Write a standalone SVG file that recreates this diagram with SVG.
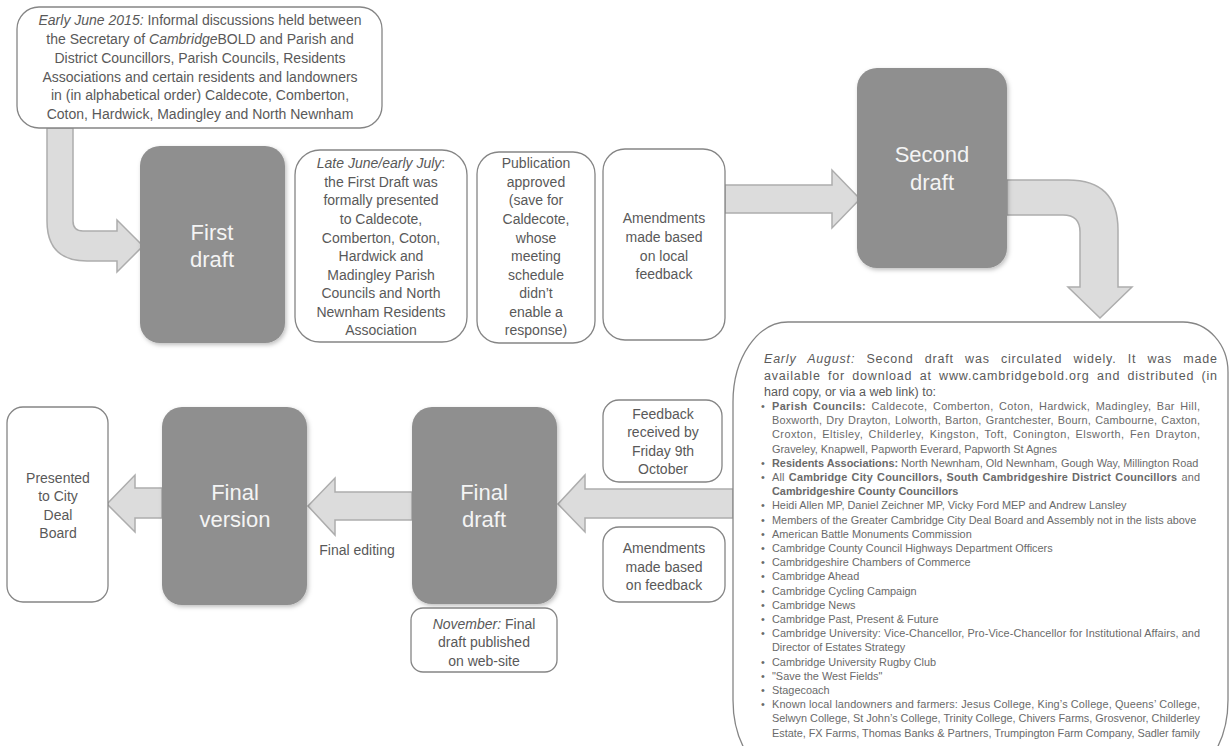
<svg xmlns="http://www.w3.org/2000/svg" width="1231" height="746" viewBox="0 0 1231 746">
<defs>
<filter id="sh" x="-10%" y="-10%" width="130%" height="130%">
<feDropShadow dx="1.5" dy="2" stdDeviation="2" flood-color="#000" flood-opacity="0.25"/>
</filter>
</defs>
<style>
.box{fill:#fff;stroke:#858585;stroke-width:1.3}
.dark{fill:#8f8f8f;filter:url(#sh)}
.t{font-family:"Liberation Sans",Arial,sans-serif;font-size:14px;fill:#595959;text-anchor:middle}
.title{font-family:"Liberation Sans",Arial,sans-serif;font-size:22px;fill:#f4f4f4;text-anchor:middle}
.arrow{fill:#dcdcdc;stroke:#adadad;stroke-width:1.5;stroke-linejoin:miter}
.p{font-family:"Liberation Sans",Arial,sans-serif;font-size:12.5px;fill:#5a5a5a}
.b{font-family:"Liberation Sans",Arial,sans-serif;font-size:10.9px;fill:#6a6a6a}
.i{font-style:italic}
.bd{font-weight:bold}
</style>
<rect width="1231" height="746" fill="#fff"/>

<g id="connectors">
<path class="arrow" d="M47,128 L73,128 L73,221 Q73,231 83,231 L117,231 L117,220 L143,246 L117,272 L117,261 L87,261 Q47,261 47,221 Z"/>
<path class="arrow" d="M725,185 L832,185 L832,170 L860,199 L832,228 L832,213 L725,213 Z"/>
<path class="arrow" d="M1007,180 L1068,180 Q1118,180 1118,230 L1118,287 L1132,287 L1100,318 L1068,287 L1080,287 L1080,232 Q1080,215 1063,215 L1007,215 Z"/>
<path class="arrow" d="M733,489 L585,489 L585,475 L558,504 L585,532 L585,518 L733,518 Z"/>
<path class="arrow" d="M412,492 L335,492 L335,478 L308,506 L335,535 L335,520 L412,520 Z"/>
<path class="arrow" d="M162,488 L135,488 L135,475 L107,504 L135,532 L135,518 L162,518 Z"/>
</g>

<g id="early-june">
<rect class="box" x="17" y="7" width="365" height="121" rx="22"/>
<text class="t" x="200" y="25"><tspan class="i">Early June 2015:</tspan> Informal discussions held between</text>
<text class="t" x="200" y="44">the Secretary of <tspan class="i">Cambridge</tspan>BOLD and Parish and</text>
<text class="t" x="200" y="63">District Councillors, Parish Councils, Residents</text>
<text class="t" x="200" y="82">Associations and certain residents and landowners</text>
<text class="t" x="200" y="100">in (in alphabetical order) Caldecote, Comberton,</text>
<text class="t" x="200" y="119">Coton, Hardwick, Madingley and North Newnham</text>
</g>

<g id="first-draft">
<rect class="dark" x="140" y="146" width="145" height="197" rx="20"/>
<text class="title" x="212" y="240">First</text>
<text class="title" x="212" y="267">draft</text>
</g>

<g id="late-june">
<rect class="box" x="295" y="150" width="172" height="192" rx="25"/>
<text class="t" x="381" y="168"><tspan class="i">Late June/early July</tspan>:</text>
<text class="t" x="381" y="186.6">the First Draft was</text>
<text class="t" x="381" y="205">formally presented</text>
<text class="t" x="381" y="224">to Caldecote,</text>
<text class="t" x="381" y="242.5">Comberton, Coton,</text>
<text class="t" x="381" y="261">Hardwick and</text>
<text class="t" x="381" y="280">Madingley Parish</text>
<text class="t" x="381" y="298">Councils and North</text>
<text class="t" x="381" y="317">Newnham Residents</text>
<text class="t" x="381" y="335">Association</text>
</g>

<g id="publication">
<rect class="box" x="477" y="152" width="118" height="191" rx="22"/>
<text class="t" x="536" y="168">Publication</text>
<text class="t" x="536" y="186.6">approved</text>
<text class="t" x="536" y="205">(save for</text>
<text class="t" x="536" y="224">Caldecote,</text>
<text class="t" x="536" y="242.5">whose</text>
<text class="t" x="536" y="261">meeting</text>
<text class="t" x="536" y="280">schedule</text>
<text class="t" x="536" y="298">didn’t</text>
<text class="t" x="536" y="317">enable a</text>
<text class="t" x="536" y="335">response)</text>
</g>

<g id="amend-local">
<rect class="box" x="603" y="149" width="122" height="191" rx="22"/>
<text class="t" x="664" y="223">Amendments</text>
<text class="t" x="664" y="242">made based</text>
<text class="t" x="664" y="261">on local</text>
<text class="t" x="664" y="279">feedback</text>
</g>

<g id="second-draft">
<rect class="dark" x="857" y="68" width="150" height="200" rx="20"/>
<text class="title" x="932" y="162">Second</text>
<text class="title" x="932" y="190">draft</text>
</g>

<g id="early-august">
<path class="box" d="M788,322 L1183,322 A45,50 0 0 1 1228,372 L1228,700 A55,80 0 0 1 1173,780 L788,780 A55,80 0 0 1 733,700 L733,402 A55,80 0 0 1 788,322 Z"/>
<text class="p" x="764" y="363" textLength="453" lengthAdjust="spacing" word-spacing="7"><tspan class="i">Early August:</tspan> Second draft was circulated widely.  It was made</text>
<text class="p" x="764" y="380" textLength="453" lengthAdjust="spacing" word-spacing="3">available for download at www.cambridgebold.org and distributed (in</text>
<text class="p" x="764" y="396">hard copy, or via a web link) to:</text>
<g>
<text class="b" x="761" y="410">•</text>
<text class="b" x="772" y="410" textLength="428" lengthAdjust="spacing" word-spacing="2"><tspan class="bd">Parish Councils:</tspan> Caldecote, Comberton, Coton, Hardwick, Madingley, Bar Hill,</text>
<text class="b" x="772" y="424.2" textLength="428" lengthAdjust="spacing" word-spacing="1">Boxworth, Dry Drayton, Lolworth, Barton, Grantchester, Bourn, Cambourne, Caxton,</text>
<text class="b" x="772" y="438.4" textLength="428" lengthAdjust="spacing" word-spacing="2">Croxton, Eltisley, Childerley, Kingston, Toft, Conington, Elsworth, Fen Drayton,</text>
<text class="b" x="772" y="452.6">Graveley, Knapwell, Papworth Everard, Papworth St Agnes</text>
<text class="b" x="761" y="466.8">•</text>
<text class="b" x="772" y="466.8"><tspan class="bd">Residents Associations:</tspan> North Newnham, Old Newnham, Gough Way, Millington Road</text>
<text class="b" x="761" y="481">•</text>
<text class="b" x="772" y="481" textLength="428" lengthAdjust="spacing" word-spacing="1">All <tspan class="bd">Cambridge City Councillors, South Cambridgeshire District Councillors</tspan> and</text>
<text class="b bd" x="772" y="495.2">Cambridgeshire County Councillors</text>
<text class="b" x="761" y="509.4">•</text>
<text class="b" x="772" y="509.4">Heidi Allen MP, Daniel Zeichner MP, Vicky Ford MEP and Andrew Lansley</text>
<text class="b" x="761" y="523.6">•</text>
<text class="b" x="772" y="523.6">Members of the Greater Cambridge City Deal Board and Assembly not in the lists above</text>
<text class="b" x="761" y="537.8">•</text>
<text class="b" x="772" y="537.8">American Battle Monuments Commission</text>
<text class="b" x="761" y="552">•</text>
<text class="b" x="772" y="552">Cambridge County Council Highways Department Officers</text>
<text class="b" x="761" y="566.2">•</text>
<text class="b" x="772" y="566.2">Cambridgeshire Chambers of Commerce</text>
<text class="b" x="761" y="580.4">•</text>
<text class="b" x="772" y="580.4">Cambridge Ahead</text>
<text class="b" x="761" y="594.6">•</text>
<text class="b" x="772" y="594.6">Cambridge Cycling Campaign</text>
<text class="b" x="761" y="608.8">•</text>
<text class="b" x="772" y="608.8">Cambridge News</text>
<text class="b" x="761" y="623">•</text>
<text class="b" x="772" y="623">Cambridge Past, Present &amp; Future</text>
<text class="b" x="761" y="637.2">•</text>
<text class="b" x="772" y="637.2" textLength="428" lengthAdjust="spacing">Cambridge University: Vice-Chancellor, Pro-Vice-Chancellor for Institutional Affairs, and</text>
<text class="b" x="772" y="651.4">Director of Estates Strategy</text>
<text class="b" x="761" y="665.6">•</text>
<text class="b" x="772" y="665.6">Cambridge University Rugby Club</text>
<text class="b" x="761" y="679.8">•</text>
<text class="b" x="772" y="679.8">"Save the West Fields"</text>
<text class="b" x="761" y="694">•</text>
<text class="b" x="772" y="694">Stagecoach</text>
<text class="b" x="761" y="708.2">•</text>
<text class="b" x="772" y="708.2" textLength="428" lengthAdjust="spacing">Known local landowners and farmers: Jesus College, King’s College, Queens’ College,</text>
<text class="b" x="772" y="722.4" textLength="428" lengthAdjust="spacing">Selwyn College, St John’s College, Trinity College, Chivers Farms, Grosvenor, Childerley</text>
<text class="b" x="772" y="736.6" textLength="428" lengthAdjust="spacing">Estate, FX Farms, Thomas Banks &amp; Partners, Trumpington Farm Company, Sadler family</text>
</g>
</g>

<g id="feedback-received">
<rect class="box" x="603" y="400" width="119" height="82" rx="16"/>
<text class="t" x="663" y="419">Feedback</text>
<text class="t" x="663" y="437">received by</text>
<text class="t" x="663" y="456">Friday 9th</text>
<text class="t" x="663" y="474">October</text>
</g>

<g id="amend-feedback">
<rect class="box" x="603" y="527" width="122" height="75" rx="16"/>
<text class="t" x="664" y="553">Amendments</text>
<text class="t" x="664" y="572">made based</text>
<text class="t" x="664" y="590">on feedback</text>
</g>

<g id="final-draft">
<rect class="dark" x="412" y="407" width="145" height="197" rx="20"/>
<text class="title" x="484" y="500">Final</text>
<text class="title" x="484" y="527">draft</text>
</g>

<g id="november">
<rect class="box" x="411" y="608" width="146" height="64" rx="12"/>
<text class="t" x="484" y="629"><tspan class="i">November:</tspan> Final</text>
<text class="t" x="484" y="647">draft published</text>
<text class="t" x="484" y="666">on web-site</text>
</g>

<g id="final-editing-label">
<text class="t" x="357" y="555">Final editing</text>
</g>

<g id="final-version">
<rect class="dark" x="162" y="407" width="145" height="198" rx="20"/>
<text class="title" x="235" y="500">Final</text>
<text class="title" x="235" y="527">version</text>
</g>

<g id="presented">
<rect class="box" x="7" y="407" width="101" height="195" rx="16"/>
<text class="t" x="58" y="483">Presented</text>
<text class="t" x="58" y="501">to City</text>
<text class="t" x="58" y="520">Deal</text>
<text class="t" x="58" y="538">Board</text>
</g>
</svg>
